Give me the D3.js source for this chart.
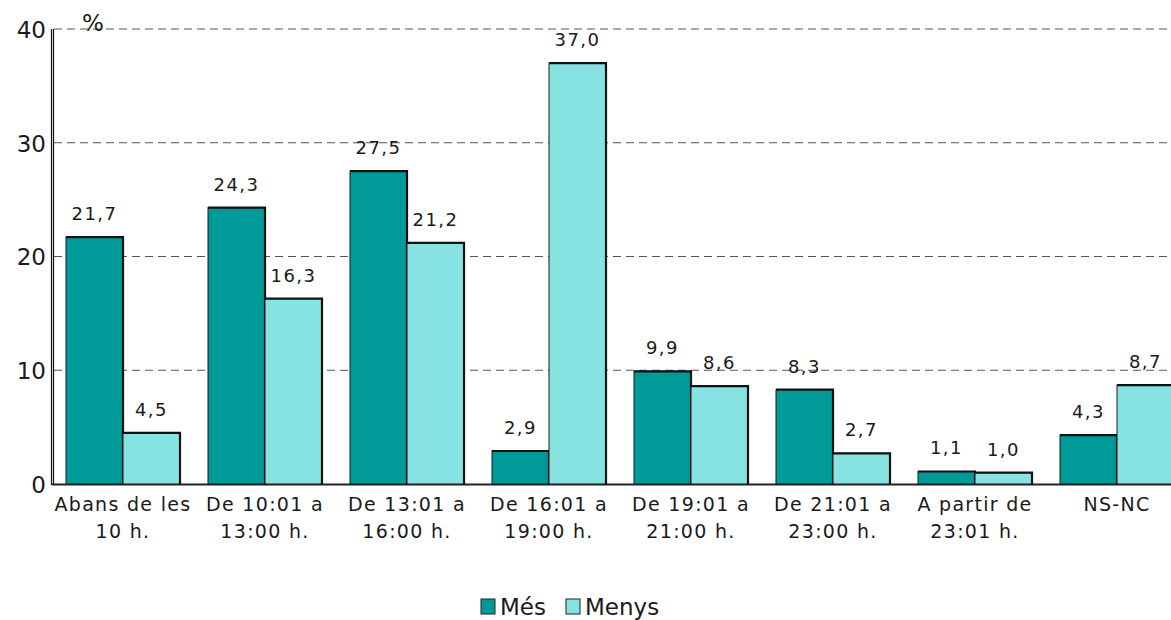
<!DOCTYPE html>
<html>
<head>
<meta charset="utf-8">
<script src="https://cdn.jsdelivr.net/npm/d3@7"></script>
<style>
  html, body { margin: 0; padding: 0; background: #fff; }
  svg { display: block; }
  text { font-family: "DejaVu Sans", Verdana, sans-serif; fill: #1a1a1a; }
</style>
</head>
<body>
<svg id="chart" width="1171" height="620"></svg>
<script>
// Time slots (two-line labels)
const categories = [
  "Abans de les\n10 h.",
  "De 10:01 a\n13:00 h.",
  "De 13:01 a\n16:00 h.",
  "De 16:01 a\n19:00 h.",
  "De 19:01 a\n21:00 h.",
  "De 21:01 a\n23:00 h.",
  "A partir de\n23:01 h.",
  "NS-NC"
];
const seriesNames = ["Més", "Menys"];
const mesValues = [21.7, 24.3, 27.5, 2.9, 9.9, 8.3, 1.1, 4.3];
const menysValues = [4.5, 16.3, 21.2, 37.0, 8.6, 2.7, 1.0, 8.7];
const yTicks = [0, 10, 20, 30, 40];
const colors = { "Més": "#009a99", "Menys": "#87e3e1" };

const svg = d3.select("#chart");

const plotLeft = 52, plotTop = 29, plotBottom = 484;
const groupStep = 142;

const x = d3.scaleBand()
  .domain(categories)
  .range([plotLeft, plotLeft + groupStep * categories.length])
  .padding(0);

const xInner = d3.scaleBand()
  .domain(seriesNames)
  .range([14, groupStep - 14])
  .padding(0);

const y = d3.scaleLinear().domain([0, 40]).range([plotBottom, plotTop]);

const fmt = v => v.toFixed(1).replace(".", ",");

// Dashed gridlines
svg.append("g")
  .selectAll("line")
  .data(yTicks.filter(t => t > 0))
  .join("line")
  .attr("x1", plotLeft + 2)
  .attr("x2", 1171)
  .attr("y1", d => y(d))
  .attr("y2", d => y(d))
  .attr("stroke", "#555")
  .attr("stroke-width", 1.2)
  .attr("stroke-dasharray", "8,5");

// Y axis: labels only, the wall is drawn separately
const yAxis = d3.axisLeft(y).tickValues(yTicks).tickSize(0).tickPadding(6);
const yg = svg.append("g")
  .attr("transform", `translate(${plotLeft},0)`)
  .call(yAxis);
yg.select(".domain").remove();
yg.selectAll("text")
  .style("font-family", "'DejaVu Sans', Verdana, sans-serif")
  .style("font-size", "23px")
  .attr("fill", "#1a1a1a")
  .attr("dy", "0.36em");

// Double wall line on the left
[plotLeft - 0.5, plotLeft + 1.5].forEach(xx => {
  svg.append("line")
    .attr("x1", xx).attr("x2", xx)
    .attr("y1", plotTop).attr("y2", plotBottom + 1)
    .attr("stroke", "#111").attr("stroke-width", 1.2);
});

// Floor line
svg.append("line")
  .attr("x1", plotLeft).attr("x2", 1171)
  .attr("y1", plotBottom + 0.5).attr("y2", plotBottom + 0.5)
  .attr("stroke", "#222").attr("stroke-width", 2);

// "%" unit label
svg.append("text")
  .attr("x", 93).attr("y", 31)
  .attr("text-anchor", "middle")
  .style("font-size", "23px")
  .text("%");

// Bars
const rows = categories.map((c, i) => ({
  cat: c,
  vals: [
    { s: "Més", v: mesValues[i] },
    { s: "Menys", v: menysValues[i] }
  ]
}));

const groups = svg.append("g")
  .selectAll("g")
  .data(rows)
  .join("g")
  .attr("transform", d => `translate(${x(d.cat)},0)`);

const bars = groups.selectAll("g.bar")
  .data(d => d.vals)
  .join("g")
  .attr("class", "bar");

bars.append("rect")
  .attr("x", d => xInner(d.s))
  .attr("y", d => y(d.v))
  .attr("width", xInner.bandwidth())
  .attr("height", d => y(0) - y(d.v))
  .attr("fill", d => colors[d.s])
  .attr("stroke", "#1a1a1a")
  .attr("stroke-width", 1);

// darker top and right edges
bars.append("path")
  .attr("d", d => {
    const x0 = xInner(d.s), x1 = x0 + xInner.bandwidth(), yt = y(d.v);
    return `M${x0},${yt} L${x1},${yt} L${x1},${y(0)}`;
  })
  .attr("fill", "none")
  .attr("stroke", "#111")
  .attr("stroke-width", 2.2);

// Value labels
bars.append("text")
  .attr("x", d => xInner(d.s) + xInner.bandwidth() / 2)
  .attr("y", d => y(d.v) - 17)
  .attr("text-anchor", "middle")
  .style("font-size", "18px")
  .style("letter-spacing", "1.5px")
  .text(d => fmt(d.v));

// Category labels
const catLabels = svg.append("g")
  .selectAll("text")
  .data(categories)
  .join("text")
  .attr("x", d => x(d) + x.bandwidth() / 2)
  .attr("y", 511)
  .attr("text-anchor", "middle")
  .style("font-size", "19px")
  .style("letter-spacing", "1.3px");
catLabels.each(function(d) {
  const lines = d.split("\n");
  d3.select(this).selectAll("tspan")
    .data(lines)
    .join("tspan")
    .attr("x", x(d) + x.bandwidth() / 2)
    .attr("dy", (l, i) => i === 0 ? 0 : 27)
    .text(l => l);
});

// Legend
const legend = svg.append("g").attr("transform", "translate(481,599)");
const legendItems = [
  { s: "Més", dx: 0 },
  { s: "Menys", dx: 85 }
];
const li = legend.selectAll("g")
  .data(legendItems)
  .join("g")
  .attr("transform", d => `translate(${d.dx},0)`);
li.append("rect")
  .attr("width", 14).attr("height", 15)
  .attr("fill", d => colors[d.s])
  .attr("stroke", "#222").attr("stroke-width", 1);
li.append("text")
  .attr("x", 19).attr("y", 16)
  .style("font-size", "23px")
  .text(d => d.s);
</script>
</body>
</html>
